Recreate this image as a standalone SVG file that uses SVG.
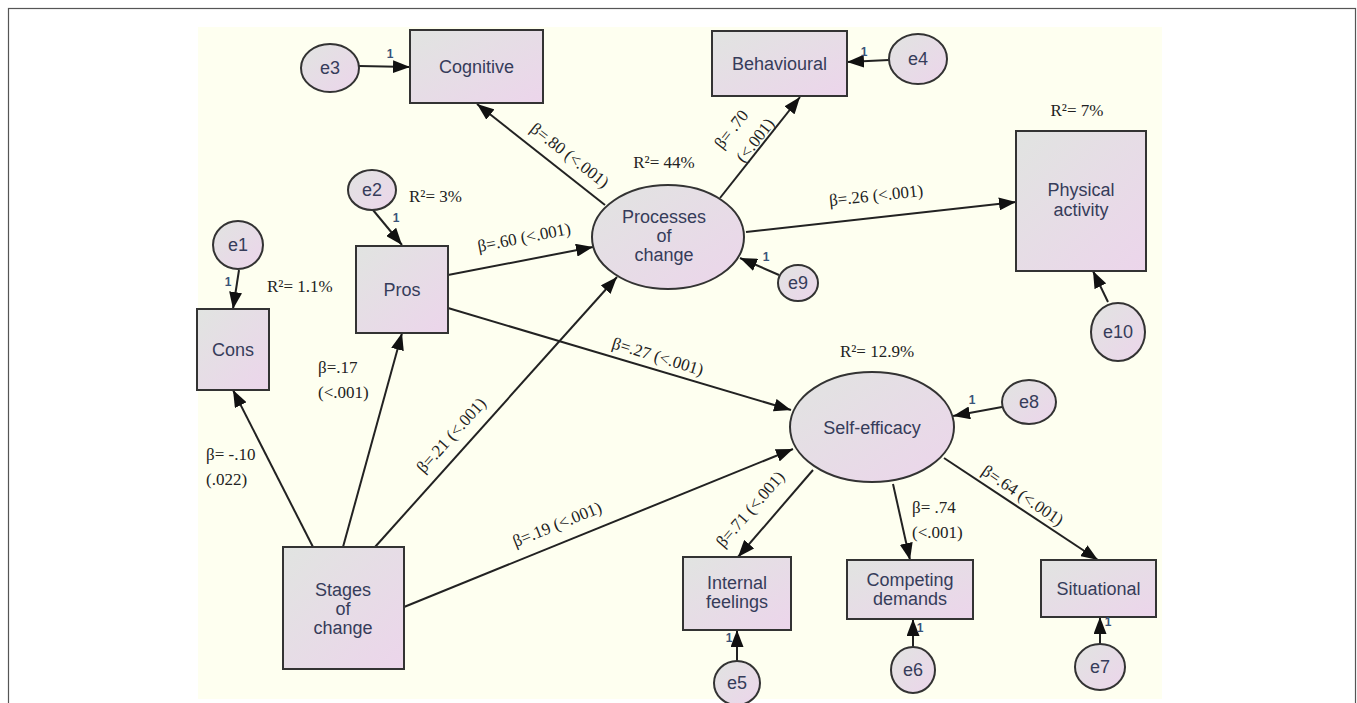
<svg xmlns="http://www.w3.org/2000/svg" width="1357" height="703" viewBox="0 0 1357 703">
<defs>
<linearGradient id="g" x1="0" y1="0" x2="1" y2="1">
<stop offset="0" stop-color="#e1e4e1"/>
<stop offset="1" stop-color="#ecd5eb"/>
</linearGradient>
<marker id="ah" markerUnits="userSpaceOnUse" markerWidth="18" markerHeight="13" refX="17" refY="6.5" orient="auto">
<path d="M0,0 L17,6.5 L0,13 z" fill="#111"/>
</marker>
</defs>
<style>
.n{fill:url(#g);stroke:#333;stroke-width:2}
.t{font-family:"Liberation Sans",Arial,sans-serif;font-size:18px;fill:#363c5a;text-anchor:middle}
.c{font-family:"Liberation Serif","Times New Roman",serif;font-size:17px;fill:#222;text-anchor:middle}
.l{font-family:"Liberation Serif","Times New Roman",serif;font-size:17px;fill:#222}
.o{font-family:"Liberation Sans",Arial,sans-serif;font-size:12px;font-weight:bold;fill:#3a5378;text-anchor:middle}
.e path{fill:none;stroke:#222;stroke-width:2;marker-end:url(#ah)}
</style>
<rect x="0" y="0" width="1357" height="703" fill="#fff"/>
<rect x="8.5" y="8.5" width="1347" height="720" fill="none" stroke="#555" stroke-width="1.2"/>
<rect x="198" y="27" width="964" height="672" fill="#fefff0"/>

<g id="connectors" class="e">
<path d="M239,270 L233,309"/>
<path d="M373,210 L402,245"/>
<path d="M359,66 L410,67"/>
<path d="M889,60 L847,62"/>
<path d="M779,275 L740,258"/>
<path d="M1108,302 L1093,271"/>
<path d="M1002,407 L953,416"/>
<path d="M737,661 L737,630"/>
<path d="M913,647 L913,619"/>
<path d="M1100,644 L1100,617"/>
<path d="M313,547 L233,390"/>
<path d="M343,547 L402,333"/>
<path d="M375,547 L617,277"/>
<path d="M404,607 L793,449"/>
<path d="M448,275 L593,247"/>
<path d="M448,308 L791,410"/>
<path d="M605,205 L477,104"/>
<path d="M720,198 L800,97"/>
<path d="M746,232 L1016,202"/>
<path d="M813,470 L738,557"/>
<path d="M893,484 L910,560"/>
<path d="M944,458 L1098,560"/>
</g>

<g id="cognitive"><rect class="n" x="410" y="30" width="133" height="73"/><text class="t" x="476.5" y="73">Cognitive</text></g>
<g id="behavioural"><rect class="n" x="712" y="31" width="135" height="65"/><text class="t" x="779.5" y="70">Behavioural</text></g>
<g id="physical"><rect class="n" x="1016" y="131" width="130" height="140"/><text class="t" x="1081" y="196">Physical</text><text class="t" x="1081" y="216">activity</text></g>
<g id="pros"><rect class="n" x="356" y="246" width="92" height="87"/><text class="t" x="402" y="296">Pros</text></g>
<g id="cons"><rect class="n" x="197" y="309" width="72" height="81"/><text class="t" x="233" y="356">Cons</text></g>
<g id="stages"><rect class="n" x="283" y="547" width="121" height="122"/><text class="t" x="343" y="596">Stages</text><text class="t" x="343" y="615">of</text><text class="t" x="343" y="634">change</text></g>
<g id="processes"><ellipse class="n" cx="668" cy="237" rx="76" ry="52"/><text class="t" x="664" y="223">Processes</text><text class="t" x="664" y="242">of</text><text class="t" x="664" y="261">change</text></g>
<g id="selfefficacy"><ellipse class="n" cx="872" cy="427" rx="82" ry="55"/><text class="t" x="872" y="434">Self-efficacy</text></g>
<g id="internal"><rect class="n" x="683" y="557" width="108" height="73"/><text class="t" x="737" y="589">Internal</text><text class="t" x="737" y="608">feelings</text></g>
<g id="competing"><rect class="n" x="847" y="560" width="126" height="59"/><text class="t" x="910" y="586">Competing</text><text class="t" x="910" y="605">demands</text></g>
<g id="situational"><rect class="n" x="1041" y="560" width="115" height="57"/><text class="t" x="1098.5" y="595">Situational</text></g>

<g id="e1"><ellipse class="n" cx="238" cy="245" rx="25" ry="24"/><text class="t" x="238" y="251">e1</text></g>
<g id="e2"><ellipse class="n" cx="372" cy="190" rx="24" ry="20"/><text class="t" x="372" y="196">e2</text></g>
<g id="e3"><ellipse class="n" cx="330" cy="68" rx="29" ry="24"/><text class="t" x="330" y="74">e3</text></g>
<g id="e4"><ellipse class="n" cx="918" cy="59" rx="29" ry="25"/><text class="t" x="918" y="65">e4</text></g>
<g id="e5"><ellipse class="n" cx="737" cy="683" rx="23" ry="22"/><text class="t" x="737" y="689">e5</text></g>
<g id="e6"><ellipse class="n" cx="913" cy="670" rx="22" ry="23"/><text class="t" x="913" y="676">e6</text></g>
<g id="e7"><ellipse class="n" cx="1100" cy="667" rx="25" ry="23"/><text class="t" x="1100" y="673">e7</text></g>
<g id="e8"><ellipse class="n" cx="1029" cy="402" rx="27" ry="22"/><text class="t" x="1029" y="408">e8</text></g>
<g id="e9"><ellipse class="n" cx="798" cy="283" rx="20" ry="18"/><text class="t" x="798" y="289">e9</text></g>
<g id="e10"><ellipse class="n" cx="1118" cy="332" rx="27" ry="29"/><text class="t" x="1118" y="338">e10</text></g>

<g id="ones">
<text class="o" x="228" y="286">1</text>
<text class="o" x="396" y="222">1</text>
<text class="o" x="390" y="58">1</text>
<text class="o" x="864" y="56">1</text>
<text class="o" x="766" y="261">1</text>
<text class="o" x="972" y="404">1</text>
<text class="o" x="729" y="642">1</text>
<text class="o" x="920" y="632">1</text>
<text class="o" x="1108" y="626">1</text>
</g>

<g id="labels">
<text class="l" x="267" y="292">R²= 1.1%</text>
<text class="l" x="409" y="202">R²= 3%</text>
<text class="c" x="664" y="168">R²= 44%</text>
<text class="c" x="1077" y="116">R²= 7%</text>
<text class="c" x="877" y="357">R²= 12.9%</text>
<text class="l" x="206" y="460">β= -.10</text>
<text class="l" x="206" y="485">(.022)</text>
<text class="l" x="318" y="373">β=.17</text>
<text class="l" x="318" y="398">(&lt;.001)</text>
<text class="l" x="912" y="513">β= .74</text>
<text class="l" x="912" y="538">(&lt;.001)</text>
<text class="c" transform="rotate(-11 524 237)" x="524" y="243">β=.60 (&lt;.001)</text>
<text class="c" transform="rotate(38 570 155)" x="570" y="161">β=.80 (&lt;.001)</text>
<text class="c" transform="rotate(-52 731 129)" x="731" y="135">β= .70</text>
<text class="c" transform="rotate(-52 755 140)" x="755" y="146">(&lt;.001)</text>
<text class="c" transform="rotate(-6 876 195)" x="876" y="201">β=.26 (&lt;.001)</text>
<text class="c" transform="rotate(17 658 356)" x="658" y="362">β=.27 (&lt;.001)</text>
<text class="c" transform="rotate(-48 451 435)" x="451" y="441">β=.21 (&lt;.001)</text>
<text class="c" transform="rotate(-22 557 524)" x="557" y="530">β=.19 (&lt;.001)</text>
<text class="c" transform="rotate(-49 750 509)" x="750" y="515">β=.71 (&lt;.001)</text>
<text class="c" transform="rotate(34 1023 495)" x="1023" y="501">β=.64 (&lt;.001)</text>
</g>
</svg>
